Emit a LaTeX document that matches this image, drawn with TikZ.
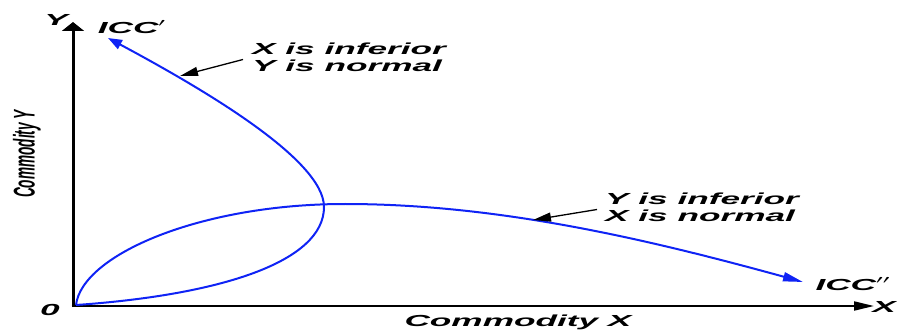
\documentclass[tikz,border=0pt]{standalone}
\usepackage{fontspec}
\setmainfont{Liberation Sans}
\usetikzlibrary{arrows.meta}
\definecolor{curveblue}{RGB}{15,35,245}
\newcommand\stretchtxt[1]{\scalebox{2.2}[1]{#1}}
\tikzset{
  lab/.style={inner sep=0pt, font=\fontsize{16}{17}\selectfont\bfseries\itshape},
  rlab/.style={inner sep=0pt, font=\fontsize{13.6}{14}\selectfont\bfseries\itshape},
  yaxis/.style={line width=3pt, -{Triangle[length=9pt,width=22pt]}},
  xaxis/.style={line width=2pt, -{Triangle[length=20pt,width=9pt]}},
  icc/.style={curveblue, line width=2pt},
  note/.style={line width=1.3pt, -{Triangle[length=18pt,width=9pt]}}
}
\begin{document}
\begin{tikzpicture}[x=1pt,y=-1pt]
\useasboundingbox (0,0) rectangle (897,331);
% axes
\coordinate (O) at (73,306);
\coordinate (Ytip) at (73,22);
\coordinate (Xtip) at (874,306);
\draw[yaxis] ([yshift=-1pt]O) -- (Ytip);
\draw[xaxis] ([xshift=-1.5pt]O) -- (Xtip);
% axis labels
\node[lab] (ylab) at (56,20) {\stretchtxt{Y}};
\node[lab] (xlab) at (884,307) {\stretchtxt{X}};
\node[lab] (zero) at (50,310) {\stretchtxt{0}};
\node[lab] (cx) at (518,322) {\stretchtxt{Commodity X}};
\node[rlab, rotate=90] (cy) at (27,154) {\scalebox{1}[2.2]{Commodity Y}};
% curve labels
\node[lab] (icc1) at (132,27) {\stretchtxt{ICC$'$}};
\node[lab] (icc2) at (853,284) {\stretchtxt{ICC$''$}};
% ICC' : X inferior
\coordinate (start) at (76,305);
\coordinate (nose) at (324,207);
\coordinate (end1) at (108,38);
\draw[icc, -{Triangle[length=14pt,width=10pt]}]
  (start) .. controls (220,295) and (324,262) .. (nose)
          .. controls (324,160) and (205,90) .. (end1);
% ICC'' : Y inferior
\coordinate (peak) at (345,204);
\coordinate (end2) at (803,282);
\draw[icc, -{Triangle[length=20pt,width=9pt]}]
  (start) .. controls (82,255) and (200,204) .. (peak)
          .. controls (500,204) and (650,240) .. (end2);
% annotations
\coordinate (p1) at (180,76);
\coordinate (p2) at (533,220);
\node[lab, anchor=west] (t1) at (252,59.5) {\stretchtxt{\begin{tabular}{@{}l@{}}X is inferior\\Y is normal\end{tabular}}};
\node[lab, anchor=west] (t2) at (605,209.5) {\stretchtxt{\begin{tabular}{@{}l@{}}Y is inferior\\X is normal\end{tabular}}};
\draw[note] ([xshift=-9pt]t1.west) -- (p1);
\draw[note] ([xshift=-8pt]t2.west) -- (p2);
\end{tikzpicture}
\end{document}
